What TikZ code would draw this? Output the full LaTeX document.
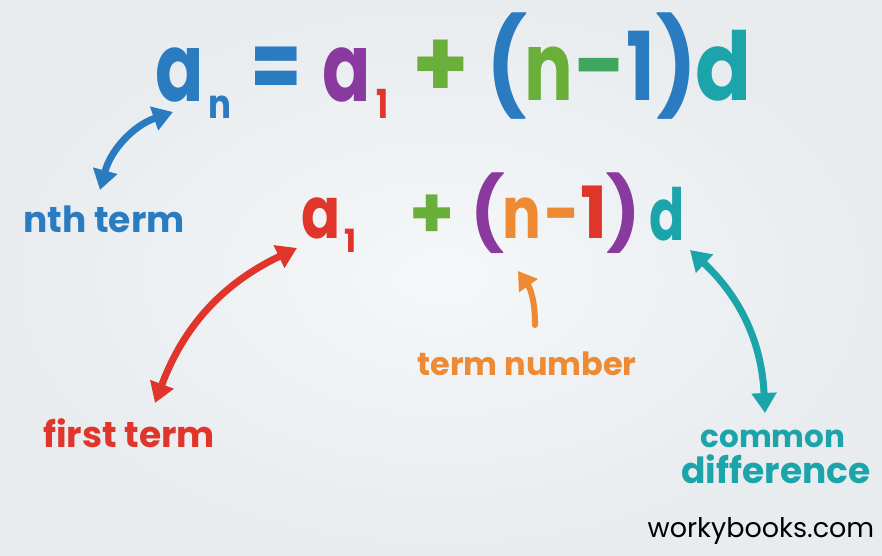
\documentclass[tikz,border=0pt]{standalone}
\usepackage{fontspec}
\setmainfont{Poppins}
\usetikzlibrary{arrows.meta}
\definecolor{cblue}{HTML}{2B7BC0}
\definecolor{cpurple}{HTML}{8A3A9E}
\definecolor{cred}{HTML}{E0352B}
\definecolor{cgreen}{HTML}{6AAF3A}
\definecolor{cgreenb}{HTML}{3FA65F}
\definecolor{cteal}{HTML}{1BA5AA}
\definecolor{corange}{HTML}{EE8A33}
\definecolor{bgin}{HTML}{F5F7F8}
\definecolor{bgout}{HTML}{E8ECEF}
\begin{document}
\begin{tikzpicture}[x=1pt,y=1pt,
  big/.style={anchor=base,inner sep=0pt,font=\bfseries\fontsize{95}{95}\selectfont},
  mid/.style={anchor=base,inner sep=0pt,font=\bfseries\fontsize{72}{72}\selectfont},
  subbig/.style={anchor=base,inner sep=0pt,font=\bfseries\fontsize{40}{40}\selectfont},
  submid/.style={anchor=base,inner sep=0pt,font=\bfseries\fontsize{32}{32}\selectfont},
  lbl/.style={anchor=base,inner sep=0pt,font=\bfseries\fontsize{36}{36}\selectfont},
  dblarrow/.style={line width=7pt,{Triangle[length=20pt,width=24pt]}-{Triangle[length=20pt,width=24pt]}},
  onearrow/.style={line width=6pt,line cap=round,-{Triangle[length=18pt,width=22pt]}}
]
\useasboundingbox (0,0) rectangle (882,-555);
\shade[inner color=bgin,outer color=bgout] (0,0) rectangle (882,-555);

% top formula
\node[big,cblue,xscale=0.75]   (ta)   at (180,-101) {a};
\node[subbig,cblue,xscale=0.85](tn)   at (220,-118) {n};
\node[big,cblue,xscale=0.78]   (teq)  at (276,-99) {=};
\node[big,cpurple,xscale=0.75] (ta1)  at (347,-101) {a};
\node[subbig,cred,xscale=0.8]  (t1)   at (383,-118) {1};
\node[big,cgreen,xscale=0.95]  (tpl)  at (441,-97) {+};
\node[big,cblue,xscale=0.9]    (tlp)  at (507,-99) {(};
\node[big,cgreen,xscale=0.76]  (tn2)  at (549,-100) {n};
\node[big,cgreenb,xscale=0.95] (tmi)  at (601,-98) {-};
\node[big,cblue,xscale=0.8]    (tone) at (641,-100) {1};
\node[big,cblue,xscale=0.9]    (trp)  at (677,-99) {)};
\node[big,cteal,xscale=0.87]   (td)   at (724,-100) {d};

% second formula
\node[mid,cred,xscale=0.8]     (sa)   at (321,-238) {a};
\node[submid,cred]             (s1)   at (351,-252) {1};
\node[mid,cgreen]              (spl)  at (432,-238) {+};
\node[mid,cpurple]             (slp)  at (488,-238) {(};
\node[mid,corange,xscale=0.8]  (sn)   at (522,-238) {n};
\node[mid,corange,xscale=0.85] (smi)  at (562,-238) {-};
\node[mid,cred]                (sone) at (594,-238) {1};
\node[mid,cpurple]             (srp)  at (624,-238) {)};
\node[mid,cteal,xscale=0.72]   (sd)   at (667,-240) {d};

% labels
\node[lbl,cblue]   (lnth)  at (104,-232) {nth term};
\node[lbl,cred]    (lfirst) at (129,-447) {first term};
\node[lbl,corange,font=\bfseries\fontsize{32}{32}\selectfont] (lterm) at (527,-375) {term number};
\node[lbl,cteal,font=\bfseries\fontsize{31}{31}\selectfont]   (lcom)  at (773,-447) {common};
\node[lbl,cteal]   (ldiff) at (776,-483) {difference};
\node[anchor=base,inner sep=0pt,font=\fontsize{27}{27}\selectfont,black] (wb) at (761,-537) {workybooks.com};

% arrow end points
\coordinate (bA) at (173,-112);
\coordinate (bB) at (100,-190);
\coordinate (rA) at (297,-248);
\coordinate (rB) at (155,-403);
\coordinate (oA) at (535,-325);
\coordinate (oB) at (518,-271);
\coordinate (cA) at (690,-250);
\coordinate (cB) at (765,-413);

\draw[dblarrow,cblue] (bB) to[bend left=28] (bA);
\draw[dblarrow,cred] (rB) to[bend left=22] (rA);
\draw[onearrow,corange] (oA) to[bend right=18] (oB);
\draw[dblarrow,cteal] (cA) to[bend left=22] (cB);
\end{tikzpicture}
\end{document}
